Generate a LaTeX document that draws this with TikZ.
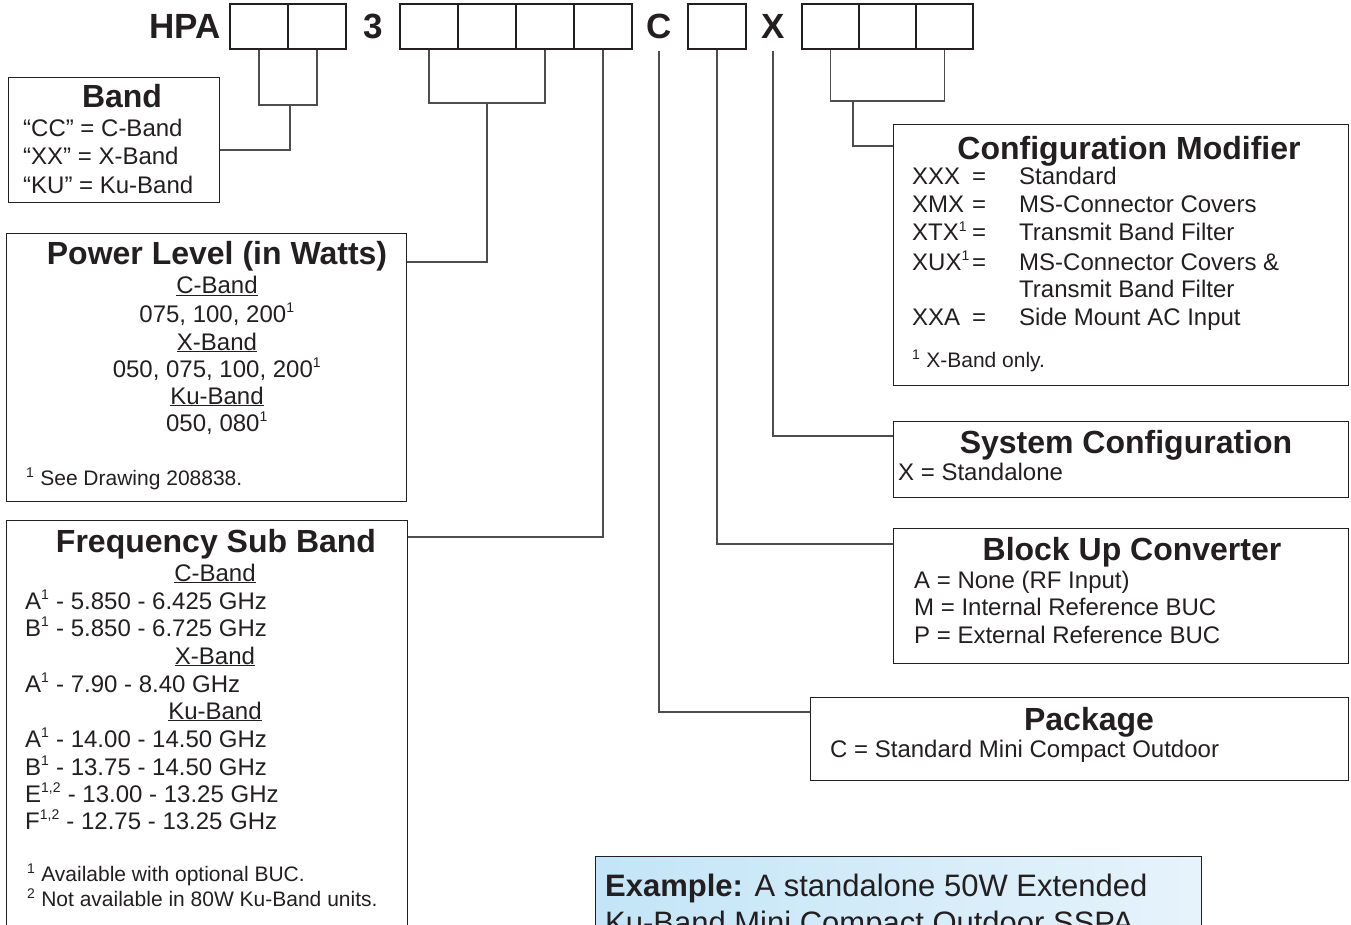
\documentclass[tikz,border=0pt]{standalone}
\usepackage{fontspec}
\setmainfont{Liberation Sans}
\usepackage{xcolor}
\definecolor{ink}{HTML}{231F20}
\definecolor{wiregray}{HTML}{4D4D4D}
\definecolor{exleft}{HTML}{C3E5F7}
\definecolor{exright}{HTML}{E6F3FB}
\newcommand{\sups}[1]{\textsuperscript{\fontsize{14}{14}\selectfont #1}}

\tikzset{
  cellbox/.style={draw=ink, line width=2.4pt, minimum height=45pt, minimum width=58pt, inner sep=0pt},
  partchar/.style={text=ink, font=\bfseries\fontsize{35}{40}\selectfont, inner sep=0pt},
  panel/.style={draw=ink, line width=1.3pt, anchor=north west, inner sep=0pt},
  heading/.style={text=ink, font=\bfseries\fontsize{32}{36}\selectfont, anchor=base, inner sep=0pt},
  entry/.style={text=ink, font=\fontsize{24}{28}\selectfont, anchor=base west, inner sep=0pt},
  centry/.style={entry, anchor=base},
  fnote/.style={text=ink, font=\fontsize{21}{24}\selectfont, anchor=base west, inner sep=0pt},
  wire/.style={draw=wiregray, line width=1.5pt},
}

\begin{document}
\begin{tikzpicture}[x=1pt,y=-1pt]
  \useasboundingbox (0,0) rectangle (1351,925);

  % part number
  \node[partchar] (hpa) at (185,26.5) {HPA};
  \node[cellbox] (b1) at (259,26.5) {};
  \node[cellbox] (b2) at (317,26.5) {};
  \node[partchar] (l3) at (373,26.5) {3};
  \node[cellbox] (p1) at (429,26.5) {};
  \node[cellbox] (p2) at (487,26.5) {};
  \node[cellbox] (p3) at (545,26.5) {};
  \node[cellbox] (p4) at (603,26.5) {};
  \node[partchar] (lc) at (659,26.5) {C};
  \node[cellbox] (c1) at (717,26.5) {};
  \node[partchar] (lx) at (773,26.5) {X};
  \node[cellbox, minimum width=57pt] (x1) at (830.5,26.5) {};
  \node[cellbox, minimum width=57pt] (x2) at (887.5,26.5) {};
  \node[cellbox, minimum width=57pt] (x3) at (944.5,26.5) {};

  % band
  \node[panel, minimum width=211pt, minimum height=125pt] (band) at (8,77) {};
  \node[heading] at (122,108) {Band};
  \node[entry] at (23,137) {“CC” = C-Band};
  \node[entry] at (23,165) {“XX” = X-Band};
  \node[entry] at (23,194) {“KU” = Ku-Band};

  % power level
  \node[panel, minimum width=400pt, minimum height=268pt] (power) at (6,233) {};
  \node[heading] at (217,265) {Power Level (in Watts)};
  \node[centry] at (217,294) {\underline{C-Band}};
  \node[centry] at (217,322) {075, 100, 200\sups{1}};
  \node[centry] at (217,350) {\underline{X-Band}};
  \node[centry] at (217,377) {050, 075, 100, 200\sups{1}};
  \node[centry] at (217,404) {\underline{Ku-Band}};
  \node[centry] at (217,431) {050, 080\sups{1}};
  \node[fnote] at (26,485) {\sups{1} See Drawing 208838.};

  % frequency sub band
  \node[panel, minimum width=401pt, minimum height=420pt] (freq) at (6,520) {};
  \node[heading] at (216,552) {Frequency Sub Band};
  \node[centry] at (215,581) {\underline{C-Band}};
  \node[entry] at (25,609) {A\sups{1} - 5.850 - 6.425 GHz};
  \node[entry] at (25,636) {B\sups{1} - 5.850 - 6.725 GHz};
  \node[centry] at (215,664) {\underline{X-Band}};
  \node[entry] at (25,692) {A\sups{1} - 7.90 - 8.40 GHz};
  \node[centry] at (215,719) {\underline{Ku-Band}};
  \node[entry] at (25,747) {A\sups{1} - 14.00 - 14.50 GHz};
  \node[entry] at (25,775) {B\sups{1} - 13.75 - 14.50 GHz};
  \node[entry] at (25,802) {E\sups{1,2} - 13.00 - 13.25 GHz};
  \node[entry] at (25,829) {F\sups{1,2} - 12.75 - 13.25 GHz};
  \node[fnote] at (27,881) {\sups{1} Available with optional BUC.};
  \node[fnote] at (27,906) {\sups{2} Not available in 80W Ku-Band units.};

  % configuration modifier
  \node[panel, minimum width=455pt, minimum height=261pt] (cfg) at (893,124) {};
  \node[heading] at (1129,160) {Configuration Modifier};
  \node[entry] at (912,185) {XXX};
  \node[centry] at (979,185) {=};
  \node[entry] at (1019,185) {Standard};
  \node[entry] at (912,213) {XMX};
  \node[centry] at (979,213) {=};
  \node[entry] at (1019,213) {MS-Connector Covers};
  \node[entry] at (912,241) {XTX\sups{1}};
  \node[centry] at (979,241) {=};
  \node[entry] at (1019,241) {Transmit Band Filter};
  \node[entry] at (912,270) {XUX\sups{1}};
  \node[centry] at (979,270) {=};
  \node[entry] at (1019,270) {MS-Connector Covers \&};
  \node[entry] at (1019,298) {Transmit Band Filter};
  \node[entry] at (912,325) {XXA};
  \node[centry] at (979,325) {=};
  \node[entry] at (1019,325) {Side Mount AC Input};
  \node[fnote] at (912,367) {\sups{1} X-Band only.};

  % system configuration
  \node[panel, minimum width=455pt, minimum height=76pt] (sys) at (893,421) {};
  \node[heading] at (1126,453) {System Configuration};
  \node[entry] at (898,480) {X = Standalone};

  % block up converter
  \node[panel, minimum width=455pt, minimum height=135pt] (buc) at (893,528) {};
  \node[heading] at (1132,560) {Block Up Converter};
  \node[entry] at (914,588) {A = None (RF Input)};
  \node[entry] at (914,615) {M = Internal Reference BUC};
  \node[entry] at (914,643) {P = External Reference BUC};

  % package
  \node[panel, minimum width=538pt, minimum height=83pt] (pkg) at (810,697) {};
  \node[heading] at (1089,730) {Package};
  \node[entry] at (830,757) {C = Standard Mini Compact Outdoor};

  % example
  \node[panel, minimum width=606pt, minimum height=100pt, left color=exleft, right color=exright] (ex) at (595,856) {};
  \node[entry, font=\fontsize{31}{37}\selectfont] at (605,896) {\textbf{Example:} A standalone 50W Extended};
  \node[entry, font=\fontsize{31}{37}\selectfont] at (605,933) {Ku-Band Mini Compact Outdoor SSPA};

  % connectors
  \coordinate (bandj) at (290,105);
  \draw[wire] (b1.south) |- (bandj) -| (b2.south);
  \draw[wire] (bandj) |- ([yshift=-73pt]band.north east);
  \coordinate (powj) at (487,103);
  \draw[wire] (p1.south) |- (powj) -| (p3.south);
  \draw[wire] (powj) |- ([yshift=-29pt]power.north east);
  \draw[wire] (p4.south) |- ([yshift=-17pt]freq.north east);
  \draw[wire] ([yshift=-12pt]lc.south) |- ([yshift=-15pt]pkg.north west);
  \draw[wire] (c1.south) |- ([yshift=-16pt]buc.north west);
  \draw[wire] ([yshift=-12pt]lx.south) |- ([yshift=-15pt]sys.north west);
  \coordinate (cfgj) at (853,101);
  \draw[wire] (x1.south) |- (cfgj) -| (x3.south);
  \draw[wire] (cfgj) |- ([yshift=-22pt]cfg.north west);
\end{tikzpicture}
\end{document}
